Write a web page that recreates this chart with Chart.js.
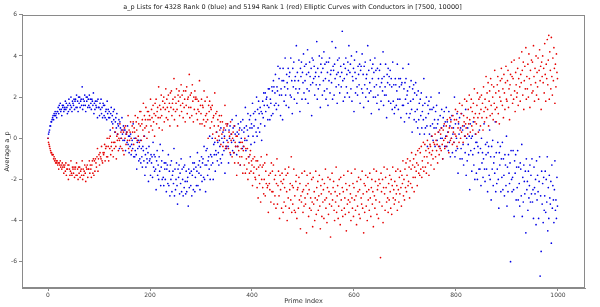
<!DOCTYPE html>
<html><head><meta charset="utf-8">
<script src="https://cdn.jsdelivr.net/npm/chart.js@4"></script>
<style>html,body{margin:0;padding:0;background:#fff}canvas{display:block}</style>
</head><body>
<canvas id="c" width="600" height="307"></canvas>
<script>
const titleText = 'a_p Lists for 4328 Rank 0 (blue) and 5194 Rank 1 (red) Elliptic Curves with Conductors in [7500, 10000]';
const xTicks = [0, 200, 400, 600, 800, 1000];
const yTicks = [-6, -4, -2, 0, 2, 4, 6];

// Average a_p for rank 0 curves (blue), one value per prime index 0..999
const rank0 = [
0.0,0.2,0.3,0.4,0.6,0.6,0.8,0.8,0.9,1.0, 1.1,0.9,1.2,1.1,1.3,1.1,1.2,1.0,1.3,1.3,
1.5,1.2,1.6,1.4,1.7,1.3,1.4,1.1,1.6,1.5, 1.6,1.3,1.4,1.5,1.8,1.4,1.7,1.5,1.2,1.6,
1.3,1.9,1.7,1.4,1.6,2.0,1.5,1.3,1.8,1.7, 1.6,1.9,1.4,1.8,1.9,1.5,2.1,1.5,1.8,1.3,
2.0,1.7,2.0,1.5,1.8,1.9,1.6,2.5,1.4,1.9, 1.6,1.8,2.1,1.6,1.3,2.0,1.8,2.0,1.5,1.9,
1.6,2.1,1.5,1.9,1.7,1.4,1.9,1.8,1.6,2.2, 1.2,1.7,1.4,1.8,1.6,1.5,1.8,1.0,1.9,1.5,
1.5,1.1,1.7,1.4,1.9,1.2,1.5,1.0,1.7,1.6, 1.1,1.6,1.0,1.3,1.4,0.9,1.8,1.2,1.4,1.0,
1.3,1.0,0.4,1.2,1.5,0.8,1.1,0.7,1.3,0.9, 1.4,0.3,0.8,1.0,0.5,1.2,0.2,0.7,0.6,0.9,
-0.5,0.8,0.5,0.0,0.4,1.0,0.2,-0.1,0.6,0.4, -0.1,0.4,-0.6,0.2,0.3,-0.2,0.6,-0.3,0.1,-0.7,
0.1,-0.4,0.2,-0.8,-0.3,-0.1,-0.5,0.7,-0.9,0.0, -0.9,-0.6,0.0,-0.8,-1.5,-0.2,-0.5,-0.1,-1.1,-0.4,
-1.0,-0.1,-1.2,-0.5,-0.9,-1.4,-0.4,-0.6,-1.1,0.1, -1.8,-0.8,-1.4,-0.5,-1.0,-1.2,-0.7,-2.1,-0.4,-1.1,
-1.0,-1.8,-0.8,-1.2,-0.9,-1.9,-0.2,-1.4,-0.8,-1.6, -0.9,-1.5,-2.5,-1.1,-0.6,-1.8,-1.3,-2.0,-0.9,-1.6,
-0.3,-2.3,-1.4,-1.1,-2.0,-0.6,-1.9,-2.3,-1.2,-1.5, -2.0,-1.2,-2.6,-1.5,-1.3,-2.2,-0.8,-2.3,-1.6,-2.8,
-1.3,-2.0,-1.1,-2.6,-1.8,-1.6,-2.2,-0.5,-2.8,-1.5, -2.5,-2.0,-1.2,-2.3,-3.2,-1.5,-1.9,-1.3,-2.7,-1.7,
-2.2,-1.0,-2.6,-1.5,-2.0,-2.8,-1.4,-2.4,-1.3,-2.1, -2.7,-1.6,-2.6,-2.1,-1.9,-3.3,-1.5,-2.4,-1.7,-0.9,
-2.3,-1.6,-2.8,-1.8,-1.2,-2.5,-1.5,-1.2,-2.6,-1.9, -1.4,-2.3,-1.6,-0.7,-2.3,-1.3,-1.7,-1.1,-2.5,-1.4,
-1.8,-0.9,-2.1,-1.2,-1.0,-1.9,-0.4,-2.0,-1.3,-2.6, -0.6,-1.3,-0.5,-1.8,-1.1,-0.9,-1.5,0.1,-2.0,-0.8,
-1.3,-0.9,0.0,-1.2,-2.0,-0.3,-0.8,-0.2,-1.6,-0.6, -0.8,0.3,-1.1,-0.2,-0.7,-1.3,-0.1,-0.4,-1.0,0.5,
-1.2,0.0,-0.8,0.3,-0.2,-0.6,0.1,-1.7,0.4,-0.4, -0.5,-0.1,0.7,-0.4,-1.2,0.4,0.0,0.6,-0.8,0.2,
-0.2,0.9,-0.6,0.5,-0.1,-0.7,0.6,0.2,-0.4,1.1, -0.8,0.3,-0.4,0.7,0.2,-0.2,0.5,-1.3,0.8,0.0,
0.4,-0.5,0.9,-0.4,0.3,0.5,-0.1,1.5,-0.6,0.6, -0.1,0.4,1.2,0.1,-0.9,0.9,0.5,1.1,-0.3,0.7,
0.5,1.7,0.1,1.2,0.6,-0.2,1.3,0.9,0.3,2.0, 0.1,1.4,0.5,1.8,1.2,0.3,1.5,0.7,1.3,-0.1,
1.2,1.8,1.0,2.2,1.6,0.6,2.2,1.3,1.9,2.0, 1.6,0.9,2.4,1.5,2.4,0.9,1.9,1.7,1.1,2.5,
2.3,1.2,2.8,2.5,1.6,2.2,3.1,1.7,1.4,2.5, 2.3,3.5,1.6,2.9,2.1,3.4,1.1,2.4,2.1,2.8,
0.9,3.4,2.8,1.8,2.5,3.9,2.1,1.6,3.1,2.7, 2.4,3.4,1.5,3.0,3.2,2.1,3.9,2.0,2.8,1.2,
3.4,2.5,3.7,1.9,2.8,3.0,2.4,4.5,1.7,3.2, 2.2,2.8,3.8,2.4,1.3,3.4,3.0,3.7,1.9,3.2,
2.7,4.1,2.2,3.5,2.8,1.9,3.6,3.1,2.4,4.3, 1.7,3.2,2.3,3.7,3.0,2.6,3.4,1.1,3.9,2.7,
3.8,2.9,3.5,2.1,3.0,3.2,2.6,4.7,1.9,3.4, 2.4,3.0,4.0,2.6,1.5,3.6,3.2,3.9,2.1,3.4,
2.8,4.2,2.3,3.6,2.9,1.9,3.7,2.4,3.2,1.6, 3.7,2.8,3.9,2.2,3.1,3.3,2.7,4.7,1.9,3.5,
3.3,2.1,3.6,2.9,4.4,2.5,3.1,1.7,3.8,3.2, 2.6,3.9,2.2,3.0,3.5,2.5,3.2,5.2,2.8,1.8,
3.6,2.9,2.0,3.4,3.9,2.5,3.1,2.2,3.7,3.3, 4.5,2.0,3.2,3.6,2.4,4.0,1.8,3.0,2.8,3.4,
1.3,3.8,3.2,2.2,2.9,4.2,2.5,2.1,3.5,3.1, 2.6,3.6,1.7,3.3,3.5,2.4,4.1,2.2,3.1,1.5,
3.5,2.6,3.7,2.0,2.9,3.1,2.4,4.5,1.8,3.3, 2.2,2.7,3.8,2.3,1.2,3.4,2.9,3.6,2.0,3.2,
2.5,3.9,2.0,3.3,2.6,1.7,3.4,2.1,2.9,1.4, 3.3,2.5,3.6,1.8,2.7,2.9,2.3,4.2,1.6,3.0,
2.1,2.5,3.6,2.1,1.0,3.1,2.7,3.4,1.8,3.0, 2.6,3.3,1.7,2.9,2.5,1.4,3.7,1.8,2.6,1.2,
1.5,2.9,2.6,1.6,2.3,3.6,1.9,1.4,2.9,2.5, 1.9,2.9,1.0,2.6,2.7,1.6,3.4,1.6,2.4,0.8,
2.7,1.9,2.9,1.2,2.1,2.3,1.7,3.6,1.0,2.5, 1.2,1.8,2.8,1.4,0.3,2.4,1.9,2.6,0.9,2.2,
1.3,2.7,0.8,2.1,1.4,0.5,2.3,0.9,1.7,0.2, 1.9,1.1,2.2,0.5,1.3,1.6,0.9,2.9,0.2,1.7,
0.5,1.0,2.0,0.6,-0.4,1.6,1.2,1.8,0.2,1.4, 0.6,2.0,0.1,1.4,0.7,-0.1,1.5,0.5,0.9,-0.4,
1.3,0.5,1.6,-0.1,0.7,0.9,0.3,2.2,-0.4,1.1, 0.0,0.5,1.4,0.0,-1.0,1.0,0.6,1.3,-0.4,0.8,
0.1,1.5,-0.4,0.8,0.3,-0.6,1.3,-0.2,0.6,-0.9, 0.9,0.0,1.1,-0.7,0.2,0.5,-0.2,2.0,-0.9,0.7,
-0.6,0.0,1.2,-0.5,-1.7,0.7,0.2,1.0,-1.0,0.5, -0.5,1.2,-1.0,0.4,-0.3,-1.3,0.6,0.1,-0.7,1.4,
-1.8,0.0,-1.1,0.5,-0.3,-0.8,0.1,-2.5,0.7,-0.6, 0.0,-1.6,0.1,-0.8,0.8,-1.3,-0.5,-2.0,0.2,-0.2,
-1.7,-0.2,-2.0,-0.4,-0.7,-1.5,0.4,-1.5,-0.5,-2.3, 0.0,-1.2,-0.7,-1.9,-1.0,0.7,-1.5,-2.1,-0.3,-0.8,
-1.5,-0.2,-2.6,-0.7,-0.4,-1.8,0.4,-2.0,-0.9,-3.0, -0.4,-1.5,-0.1,-2.3,-1.2,-0.9,-1.7,0.8,-2.6,-0.7,
-2.2,-1.5,-0.2,-2.0,-3.4,-0.7,-1.3,-0.4,-2.6,-1.0, -1.9,-0.2,-2.5,-1.0,-1.8,-2.8,-0.8,-1.3,-2.3,0.1,
-3.3,-1.4,-2.6,-0.8,-1.7,-2.2,-1.2,-6.0,-0.6,-2.0, -2.6,-1.9,-0.6,-2.5,-3.8,-1.1,-1.7,-0.8,-3.0,-1.4,
-2.4,-0.6,-3.0,-1.4,-2.2,-3.3,-1.2,-1.5,-2.8,-0.3, -3.8,-1.9,-3.1,-1.3,-2.1,-2.7,-1.6,-4.6,-1.0,-2.5,
-2.1,-3.5,-1.6,-2.9,-2.3,-1.3,-3.1,-1.8,-2.7,-1.0, -3.1,-2.5,-3.9,-1.4,-2.4,-2.7,-2.0,-4.2,-1.1,-3.0,
-1.8,-2.6,-3.9,-2.1,-0.9,-6.7,-2.8,-5.5,-1.6,-3.2, -2.2,-4.1,-1.9,-3.5,-2.8,-1.6,-3.6,-2.0,-3.1,-0.9,
-4.5,-2.4,-3.9,-1.8,-2.9,-3.2,-2.1,-5.1,-1.3,-3.4, -2.3,-3.0,-4.1,-2.5,-1.1,-3.5,-3.0,-3.9,-1.9,-3.3
];

// Average a_p for rank 1 curves (red), one value per prime index 0..999
const rank1 = [
0.0,-0.2,-0.3,-0.4,-0.5,-0.6,-0.7,-0.7,-0.8,-0.8, -0.8,-1.0,-0.9,-1.1,-1.0,-1.2,-1.1,-1.2,-1.1,-1.3,
-1.2,-1.5,-1.2,-1.3,-1.1,-1.4,-1.3,-1.5,-1.2,-1.4, -1.3,-1.7,-1.4,-1.3,-1.6,-1.2,-1.8,-1.5,-1.5,-1.3,
-2.0,-1.3,-1.5,-1.8,-1.6,-1.1,-1.7,-1.8,-1.4,-1.5, -1.7,-1.4,-1.9,-1.5,-1.4,-1.8,-1.2,-1.8,-1.5,-2.0,
-1.4,-1.7,-1.4,-1.9,-1.6,-1.5,-1.8,-1.1,-2.0,-1.5, -1.8,-1.6,-1.3,-1.7,-2.1,-1.4,-1.5,-1.3,-1.9,-1.5,
-1.5,-1.1,-1.7,-1.3,-1.5,-1.9,-1.3,-1.1,-1.7,-1.0, -1.8,-1.1,-1.6,-1.0,-1.2,-1.4,-0.9,-0.5,-1.6,-1.0,
-0.8,-1.3,-0.7,-0.9,-1.0,-0.4,-1.1,-1.2,-0.7,-0.8, -0.7,-0.3,-1.1,-0.5,-0.4,-0.9,0.0,-0.9,-0.4,-1.1,
0.0,-0.5,0.1,-0.8,-0.4,-0.2,-0.6,0.5,-0.9,-0.2, -0.5,-0.2,0.3,-0.4,-1.0,0.1,-0.1,0.2,-0.6,0.0,
-0.1,0.7,-0.4,0.3,0.0,-0.5,0.4,-0.6,0.3,-0.8, 0.5,0.0,0.6,-0.3,0.2,0.3,-0.1,1.1,-0.5,0.4,
-0.1,0.3,0.8,0.0,-0.6,0.6,0.3,0.8,-0.3,0.5, 0.3,1.1,0.0,0.8,0.4,-0.1,1.0,0.1,0.7,-0.2,
1.3,0.6,1.3,-0.1,0.7,0.9,0.4,1.7,0.1,1.1, 0.5,0.9,1.5,0.6,0.0,1.3,0.9,1.3,0.3,1.1,
0.9,1.9,0.6,1.4,1.0,0.4,1.6,0.8,1.2,0.1, 1.7,1.1,1.9,0.7,1.3,1.5,1.0,2.5,0.5,1.6,
1.0,1.4,2.1,1.1,0.4,1.8,1.5,2.0,0.8,1.7, 1.4,2.4,1.0,1.9,1.5,0.9,2.1,1.3,1.7,0.6,
2.2,1.5,2.3,1.1,1.7,1.9,1.4,2.9,0.9,2.0, 1.3,1.7,2.4,1.4,0.6,2.1,1.8,2.3,1.1,2.0,
1.6,2.6,1.3,2.1,1.7,1.0,2.3,1.5,1.9,0.8, 2.3,1.6,2.5,1.2,1.9,2.0,1.5,3.1,1.0,2.1,
1.5,2.2,1.1,2.6,1.8,0.8,2.0,1.4,2.3,1.9, 2.0,1.2,1.9,0.9,1.4,1.8,1.3,2.8,0.7,1.6,
1.2,1.9,0.7,1.6,1.5,0.9,2.3,0.6,1.8,1.1, 0.8,1.2,2.0,0.9,0.0,1.6,1.3,1.8,0.5,1.5,
1.4,0.8,1.6,0.2,1.0,1.1,0.6,2.2,0.0,1.2, 0.3,1.3,-0.1,0.9,0.6,0.1,1.1,0.4,0.8,-0.3,
1.1,0.2,0.8,-0.4,0.4,0.5,0.0,1.6,-0.5,0.7, -0.4,0.6,0.7,-0.2,-0.5,0.3,0.1,-0.7,0.8,-0.1,
0.2,-0.9,0.0,0.3,-0.7,0.6,-1.2,-0.2,-0.4,0.1, -1.8,0.1,-0.4,-1.2,-0.6,0.4,-0.9,-1.3,-0.2,-0.5,
-0.9,-0.2,-1.7,-0.6,-0.4,-1.3,0.0,-1.7,-0.5,-1.0, -1.5,-0.5,-2.0,-0.9,-1.2,-1.7,-0.8,-0.6,-1.6,-1.1,
-1.3,-2.3,-1.0,-1.7,-1.4,-0.9,-1.9,-2.0,-1.1,-1.5, -2.4,-1.1,-2.9,-1.4,-1.8,-2.2,-1.3,-3.1,-0.9,-2.0,
-1.4,-2.4,-1.3,-2.7,-2.0,-1.2,-2.8,-1.6,-2.2,-0.8, -2.4,-2.3,-3.6,-1.8,-2.2,-2.5,-1.7,-3.1,-1.2,-2.6,
-1.6,-2.6,-1.3,-3.2,-2.0,-2.8,-1.8,-3.4,-2.2,-1.0, -3.2,-2.3,-1.6,-2.8,-3.9,-1.8,-2.5,-2.1,-3.4,-1.7,
-2.2,-3.6,-2.0,-3.1,-2.4,-1.5,-3.3,-1.8,-2.6,-4.0, -1.7,-2.9,-1.4,-3.4,-2.5,-2.2,-3.0,-0.9,-3.6,-2.3,
-3.2,-2.4,-1.5,-3.5,-2.8,-3.6,-2.1,-1.8,-3.9,-2.5, -2.4,-3.4,-1.9,-3.0,-2.2,-4.4,-2.8,-3.1,-1.7,-2.6,
-3.6,-2.5,-3.3,-1.6,-2.9,-3.2,-2.3,-4.6,-1.8,-2.7, -2.2,-3.8,-2.5,-3.4,-1.7,-2.9,-3.5,-2.0,-3.1,-4.3,
-1.9,-3.2,-2.6,-4.0,-2.9,-1.6,-3.7,-2.4,-3.0,-2.1, -3.5,-2.8,-1.8,-3.3,-4.4,-2.3,-2.7,-3.8,-2.0,-3.1,
-2.5,-3.9,-2.2,-3.0,-1.5,-3.4,-2.9,-4.1,-2.4,-1.9, -3.7,-2.6,-3.2,-2.0,-4.8,-2.7,-3.3,-1.7,-3.0,-2.4,
-2.1,-3.5,-4.0,-2.6,-3.1,-1.4,-3.6,-2.8,-2.3,-3.9, -3.3,-2.0,-2.7,-4.2,-1.9,-3.0,-3.5,-2.4,-3.8,-2.6,
-1.8,-3.4,-2.9,-3.7,-2.2,-4.5,-2.5,-3.2,-1.6,-3.0, -3.6,-2.3,-3.1,-2.7,-4.0,-1.7,-2.9,-3.4,-2.2,-3.8,
-2.4,-3.0,-1.5,-3.5,-2.8,-4.2,-2.1,-3.3,-2.6,-1.9, -3.7,-2.5,-3.9,-2.0,-2.9,-3.2,-1.6,-3.4,-2.7,-4.6,
-2.2,-3.6,-2.3,-1.8,-3.3,-2.6,-4.0,-1.9,-3.0,-2.5, -3.5,-1.7,-2.9,-3.8,-2.4,-2.0,-3.2,-2.6,-4.3,-1.5,
-2.8,-3.4,-2.1,-3.0,-1.6,-3.7,-2.5,-2.3,-3.9,-2.0, -3.1,-2.2,-5.8,-1.7,-2.6,-3.3,-2.0,-4.1,-2.4,-1.4,
-2.7,-3.5,-1.9,-2.4,-3.1,-1.5,-2.9,-3.6,-2.2,-3.0, -1.8,-2.6,-3.4,-2.0,-3.7,-2.3,-1.4,-2.9,-2.5,-3.2,
-2.1,-3.0,-1.6,-2.7,-2.3,-3.5,-1.5,-2.5,-3.1,-1.9, -2.7,-1.6,-2.4,-3.3,-1.8,-2.2,-1.1,-2.8,-2.0,-3.0,
-1.5,-2.4,-1.2,-2.6,-1.8,-1.0,-2.3,-2.1,-1.4,-2.9, -1.1,-2.2,-1.5,-0.7,-2.4,-1.3,-1.9,-1.0,-2.6,-1.4,
-1.9,-0.8,-1.6,-1.2,-2.3,-0.6,-1.3,-1.7,-0.5,-1.8, -0.7,-1.5,-0.4,-1.9,-1.1,-1.4,-0.2,-1.6,-0.9,-0.3,
-1.4,-0.6,-1.7,-0.9,-0.1,-1.2,-0.5,-1.8,-0.7,-0.3, -0.4,-1.3,-0.8,0.1,-0.6,-1.0,-0.2,-1.5,-0.3,0.2,
-0.9,-0.1,-0.6,-0.3,-1.2,0.3,-0.4,-0.8,0.4,-0.5, 0.2,-0.6,0.5,-0.3,-1.0,0.4,-0.1,0.7,-0.5,0.0,
-0.4,0.6,0.1,0.9,-0.2,0.3,-0.7,0.5,1.0,-0.1, 0.8,0.0,0.5,-0.3,1.1,0.3,-0.2,0.9,0.2,1.4,
0.1,0.9,-0.4,1.3,0.5,0.8,-0.2,1.7,0.4,0.0, 1.2,0.3,1.6,0.6,-0.2,1.1,0.8,1.9,0.1,0.7,
0.5,1.8,1.0,0.2,1.4,0.7,2.1,0.9,0.3,1.5, 1.9,0.6,1.3,0.4,1.7,1.0,2.4,0.8,1.2,0.2,
0.7,1.6,2.2,1.0,0.3,1.9,1.2,2.0,0.6,1.4, 2.1,1.0,1.7,0.4,2.5,1.3,0.8,1.9,1.5,3.0,
1.0,2.2,1.4,2.7,0.6,1.8,2.3,1.1,2.9,1.6, 2.6,1.2,2.0,0.9,2.5,1.7,3.3,1.4,2.2,0.8,
1.5,2.6,3.0,1.2,2.3,0.7,2.0,2.8,1.8,3.4, 2.9,1.6,2.4,1.0,3.1,2.2,1.4,2.7,3.5,1.9,
1.8,2.8,3.3,1.5,2.4,0.9,2.6,3.1,2.1,3.7, 3.0,1.7,2.9,1.9,3.8,2.3,1.3,3.2,2.6,2.0,
2.2,3.4,1.6,2.9,3.9,2.5,1.8,3.1,2.7,4.2, 3.3,2.1,3.7,1.4,2.8,3.5,2.4,4.4,1.9,3.0,
2.4,3.6,2.0,4.1,2.9,1.5,3.3,2.6,3.8,2.2, 3.7,2.3,4.5,3.0,1.8,3.4,2.7,4.0,2.1,3.2,
2.5,3.9,1.9,3.3,4.3,2.8,3.5,1.4,3.7,3.0, 4.0,2.7,3.4,2.2,4.6,3.1,1.8,3.6,2.9,4.8,
2.6,3.8,5.0,1.9,4.2,3.3,2.4,4.9,3.0,2.1, 3.9,2.8,4.4,3.4,1.7,3.6,2.5,4.1,3.2,2.9
];

const FONT = 'DejaVu Sans';
const frame = {
  id: 'frame',
  afterDraw(chart) {
    const a = chart.chartArea, c = chart.ctx;
    c.save();
    c.strokeStyle = '#8a8a8a';
    c.lineWidth = 1;
    c.strokeRect(Math.round(a.left) + 0.5, Math.round(a.top) + 0.5,
                 Math.round(a.right - a.left) - 1, Math.round(a.bottom - a.top) - 1);
    c.restore();
  }
};

new Chart(document.getElementById('c'), {
  type: 'scatter',
  data: {
    datasets: [
      { label: 'Rank 0', data: rank0.map((v, i) => ({ x: i, y: v })),
        backgroundColor: '#0000e6', borderWidth: 0, pointRadius: 0.85, order: 1 },
      { label: 'Rank 1', data: rank1.map((v, i) => ({ x: i, y: v })),
        backgroundColor: '#e60000', borderWidth: 0, pointRadius: 0.85, order: 0 }
    ]
  },
  options: {
    responsive: false,
    animation: false,
    devicePixelRatio: 1,
    events: [],
    layout: { padding: { left: 0, right: 15, top: 0, bottom: 0 } },
    plugins: {
      legend: { display: false },
      tooltip: { enabled: false },
      title: { display: true, text: titleText, color: '#222',
               font: { family: FONT, size: 6.5, weight: 'normal' },
               padding: { top: 3, bottom: 4 } }
    },
    scales: {
      x: {
        type: 'linear', min: -51, max: 1053,
        afterBuildTicks(s) { s.ticks = xTicks.map(v => ({ value: v })); },
        afterFit(s) { s.height = 19; },
        grid: { drawOnChartArea: false, drawTicks: true, tickLength: 3, color: '#8a8a8a' },
        border: { display: true, color: '#8a8a8a' },
        ticks: { color: '#444', font: { family: FONT, size: 6 }, padding: 1, maxRotation: 0, autoSkip: false,
                 callback: v => String(v) },
        title: { display: true, text: 'Prime Index', color: '#333',
                 font: { family: FONT, size: 6.5 }, padding: { top: 0, bottom: 2 } }
      },
      y: {
        type: 'linear', min: -7.28, max: 6,
        afterBuildTicks(s) { s.ticks = yTicks.map(v => ({ value: v })); },
        afterFit(s) { s.width = 22; },
        grid: { drawOnChartArea: false, drawTicks: true, tickLength: 3, color: '#8a8a8a' },
        border: { display: true, color: '#8a8a8a' },
        ticks: { color: '#444', font: { family: FONT, size: 6 }, padding: 2, autoSkip: false,
                 callback: v => String(v) },
        title: { display: true, text: 'Average a_p', color: '#333',
                 font: { family: FONT, size: 6.5 }, padding: { top: 3, bottom: 0 } }
      }
    }
  },
  plugins: [frame]
});
</script>
</body></html>
